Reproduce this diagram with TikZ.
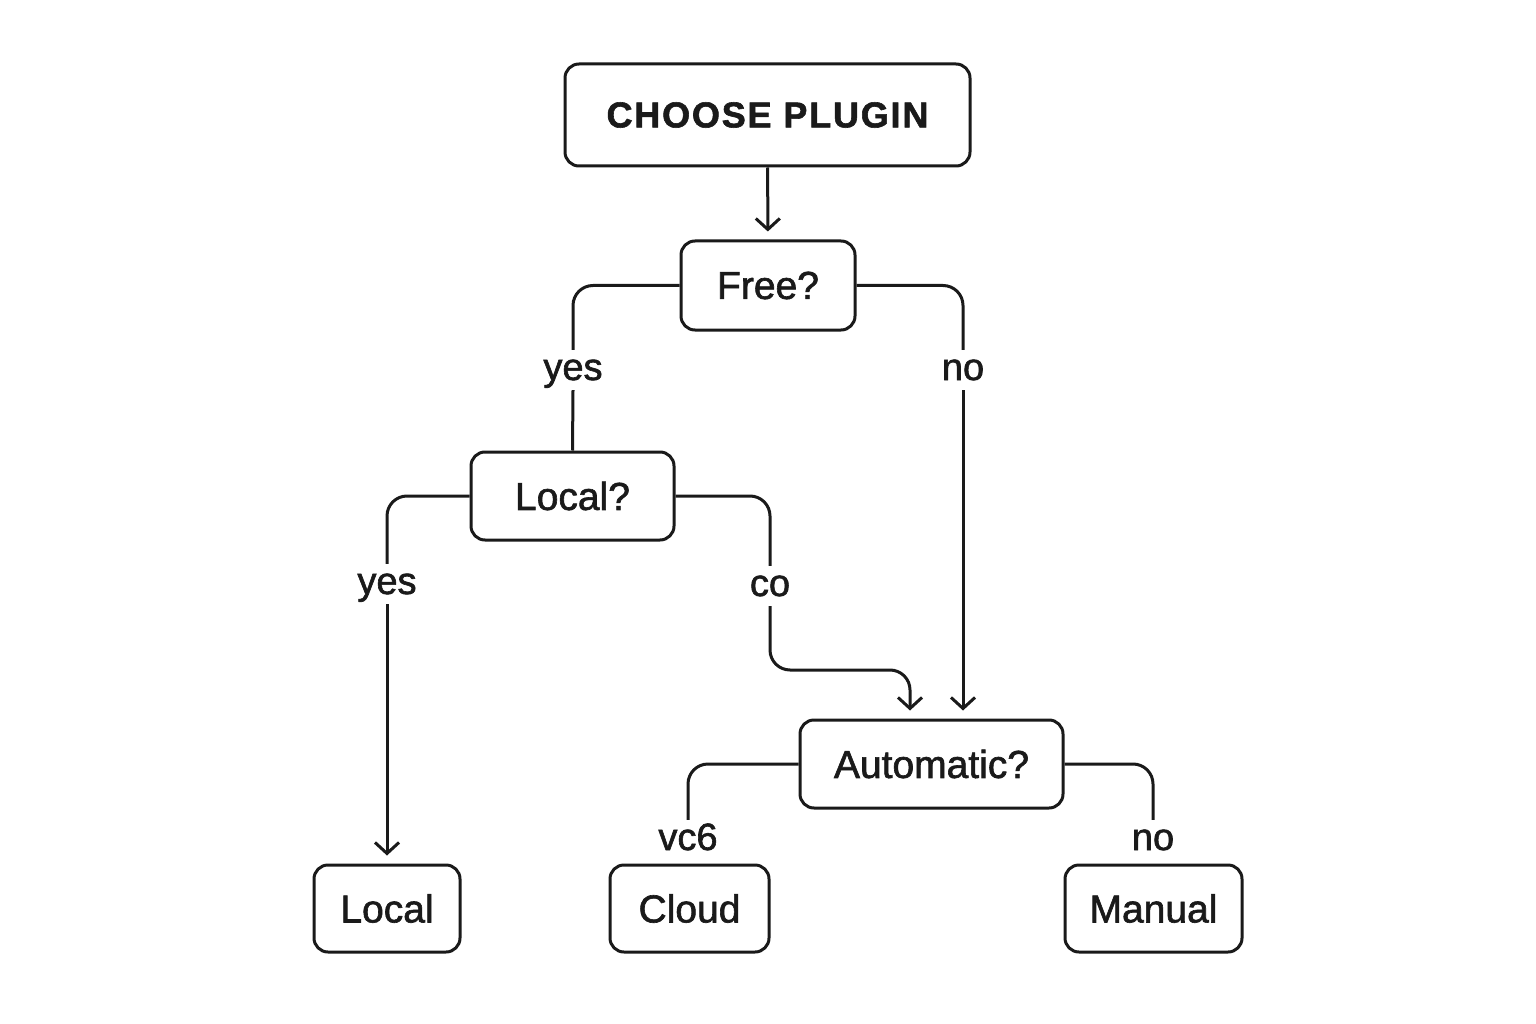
\documentclass[tikz,border=0pt]{standalone}
\usepackage{fontspec}
\setmainfont{Liberation Sans}
\newfontfamily\medfont{Liberation Sans}[FakeBold=1.6]
\usetikzlibrary{arrows.meta}
\definecolor{ink}{HTML}{1A1A1A}
\begin{document}
\begin{tikzpicture}[x=1pt,y=-1pt,
 box/.style={draw=ink, line width=3pt, rounded corners=14pt, inner sep=0pt, text=ink, font=\medfont\fontsize{39}{46}\selectfont},
 lbl/.style={inner sep=0pt, minimum height=40pt, text height=24pt, text depth=4pt, text=ink, font=\medfont\fontsize{38}{44}\selectfont},
 conn/.style={draw=ink, line width=3pt, rounded corners=20pt},
 arr/.style={conn, -{Straight Barb[length=11pt,width=24pt]}, shorten >=8pt}]
\fill[white] (0,0) rectangle (1536,1024);
\useasboundingbox (0,0) rectangle (1536,1024);
% boxes
\node[box, minimum width=405, minimum height=102] (choose) at (767.5,115) {\fontsize{36}{42}\selectfont\bfseries\addfontfeatures{LetterSpace=5}CHOOSE PLUGIN};
\node[box, minimum width=174, minimum height=89] (free) at (768,285.5) {Free?};
\node[box, minimum width=203, minimum height=88] (localq) at (572.5,496) {Local?};
\node[box, minimum width=263, minimum height=88] (auto) at (931.5,764) {Automatic?};
\node[box, minimum width=146, minimum height=87] (local) at (387,908.5) {Local};
\node[box, minimum width=159, minimum height=87] (cloud) at (689.5,908.5) {Cloud};
\node[box, minimum width=177, minimum height=87] (manual) at (1153.5,908.5) {Manual};
% labels
\node[lbl] (yes1) at (573,370) {yes};
\node[lbl] (no1) at (963,370) {no};
\node[lbl] (yes2) at (387,584) {yes};
\node[lbl] (co) at (770,586) {co};
\node[lbl] (vc) at (688,840) {vc6};
\node[lbl] (no2) at (1153,840) {no};
% connectors
\draw[arr] (choose) -- (free);
\draw[conn] (free.west) -| (yes1.north);
\draw[conn] (yes1.south) -- (localq.north);
\draw[conn] (free.east) -| (no1.north);
\draw[arr] (no1.south) -- (no1.south |- auto.north);
\draw[conn] (localq.west) -| (yes2.north);
\draw[arr] (yes2.south) -- (yes2.south |- local.north);
\draw[conn] (localq.east) -| (co.north);
\coordinate (k) at (910,670);
\draw[arr] (co.south) |- (k) -- (k |- auto.north);
\draw[conn] (auto.west) -| (vc.north);
\draw[conn] (auto.east) -| (no2.north);
\end{tikzpicture}
\end{document}
